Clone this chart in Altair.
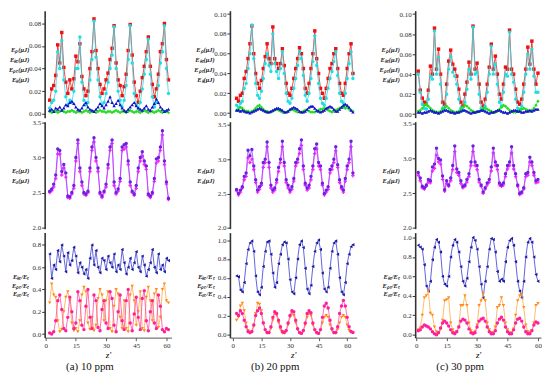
import altair as alt
import pandas as pd

SERIF = "Liberation Serif"

# ---------------- x positions ----------------
Z_A = list(range(2, 62))
Z_B = list(range(2, 64))
Z_C = list(range(1, 61))
X_TICKS = [0, 15, 30, 45, 60]

# ---------------- (a) 10 ppm ----------------
A_RED = [0.012, 0.022, 0.025, 0.034, 0.061, 0.045, 0.072, 0.041, 0.028, 0.018,
         0.030, 0.022, 0.031, 0.051, 0.046, 0.062, 0.033, 0.022, 0.016, 0.020,
         0.040, 0.055, 0.084, 0.056, 0.040, 0.026, 0.018, 0.022, 0.030, 0.036,
         0.048, 0.058, 0.078, 0.045, 0.030, 0.025, 0.016, 0.024, 0.035, 0.056,
         0.079, 0.052, 0.028, 0.016, 0.010, 0.020, 0.032, 0.042, 0.055, 0.068,
         0.042, 0.026, 0.015, 0.022, 0.035, 0.055, 0.062, 0.080, 0.048, 0.030]
A_CYAN = [0.005, 0.010, 0.012, 0.020, 0.055, 0.040, 0.065, 0.030, 0.015, 0.008,
          0.012, 0.010, 0.020, 0.040, 0.040, 0.068, 0.028, 0.012, 0.008, 0.010,
          0.030, 0.048, 0.082, 0.050, 0.030, 0.015, 0.008, 0.010, 0.018, 0.028,
          0.040, 0.052, 0.077, 0.040, 0.020, 0.012, 0.006, 0.012, 0.025, 0.048,
          0.078, 0.045, 0.018, 0.008, 0.005, 0.010, 0.022, 0.035, 0.048, 0.066,
          0.035, 0.015, 0.006, 0.010, 0.025, 0.045, 0.055, 0.078, 0.040, 0.018]
A_BLUE = [0.003, 0.004, 0.002, 0.005, 0.004, 0.006, 0.003, 0.005, 0.008, 0.007,
          0.010, 0.011, 0.009, 0.006, 0.004, 0.003, 0.005, 0.008, 0.010, 0.006,
          0.004, 0.003, 0.002, 0.004, 0.006, 0.009, 0.007, 0.005, 0.008, 0.011,
          0.015, 0.010, 0.007, 0.009, 0.012, 0.008, 0.005, 0.003, 0.002, 0.004,
          0.006, 0.008, 0.010, 0.007, 0.005, 0.004, 0.003, 0.005, 0.007, 0.004,
          0.003, 0.006, 0.009, 0.013, 0.010, 0.006, 0.004, 0.002, 0.003, 0.004]
A_GREEN = [0.002, 0.001, 0.002, 0.002, 0.001, 0.002, 0.003, 0.002, 0.001, 0.002,
           0.002, 0.003, 0.002, 0.001, 0.002, 0.002, 0.001, 0.002, 0.003, 0.002,
           0.001, 0.002, 0.002, 0.001, 0.002, 0.003, 0.002, 0.002, 0.001, 0.002,
           0.002, 0.001, 0.002, 0.003, 0.002, 0.001, 0.002, 0.002, 0.001, 0.002,
           0.003, 0.002, 0.001, 0.002, 0.002, 0.001, 0.002, 0.003, 0.002, 0.001,
           0.002, 0.002, 0.001, 0.002, 0.003, 0.002, 0.001, 0.002, 0.002, 0.001]
A_PURPLE = [2.52, 2.55, 2.62, 2.75, 3.12, 3.10, 2.80, 2.90, 2.78, 2.45,
            2.44, 2.50, 2.60, 3.00, 3.25, 2.85, 2.65, 2.50, 2.48, 2.52,
            2.85, 3.15, 3.28, 3.00, 2.85, 2.50, 2.45, 2.52, 2.62, 2.90,
            3.15, 3.25, 2.65, 2.50, 2.55, 2.70, 3.15, 3.18, 3.20, 2.95,
            2.65, 2.52, 2.48, 2.60, 2.85, 3.00, 3.08, 2.95, 2.88, 2.48,
            2.45, 2.50, 2.70, 2.98, 3.00, 3.15, 3.38, 2.95, 2.65, 2.42]
A_MAGENTA = [2.50, 2.53, 2.58, 2.70, 3.05, 3.05, 2.75, 2.85, 2.72, 2.43,
             2.42, 2.48, 2.56, 2.95, 3.20, 2.80, 2.60, 2.48, 2.46, 2.50,
             2.80, 3.10, 3.22, 2.95, 2.80, 2.48, 2.43, 2.50, 2.58, 2.85,
             3.10, 3.20, 2.60, 2.48, 2.52, 2.66, 3.10, 3.12, 3.15, 2.90,
             2.60, 2.50, 2.46, 2.56, 2.80, 2.95, 3.02, 2.90, 2.83, 2.46,
             2.43, 2.48, 2.66, 2.92, 2.95, 3.10, 3.32, 2.90, 2.62, 2.40]
A_RK = [0.72, 0.50, 0.62, 0.58, 0.75, 0.65, 0.80, 0.70, 0.56, 0.73,
        0.62, 0.66, 0.78, 0.70, 0.55, 0.64, 0.60, 0.54, 0.58, 0.50,
        0.68, 0.80, 0.62, 0.75, 0.60, 0.55, 0.68, 0.66, 0.58, 0.70,
        0.64, 0.60, 0.72, 0.56, 0.62, 0.58, 0.76, 0.64, 0.54, 0.60,
        0.68, 0.58, 0.64, 0.74, 0.60, 0.56, 0.70, 0.62, 0.52, 0.58,
        0.64, 0.76, 0.60, 0.55, 0.72, 0.58, 0.62, 0.56, 0.68, 0.66]
A_RO = [0.28, 0.45, 0.35, 0.33, 0.12, 0.02, 0.04, 0.20, 0.33, 0.38,
        0.30, 0.10, 0.03, 0.05, 0.02, 0.12, 0.35, 0.42, 0.38, 0.10,
        0.04, 0.15, 0.03, 0.08, 0.32, 0.40, 0.35, 0.12, 0.30, 0.38,
        0.05, 0.02, 0.25, 0.40, 0.36, 0.15, 0.05, 0.30, 0.05, 0.02,
        0.35, 0.43, 0.30, 0.08, 0.20, 0.38, 0.05, 0.03, 0.33, 0.42,
        0.30, 0.12, 0.36, 0.40, 0.06, 0.15, 0.40, 0.45, 0.30, 0.28]
A_RP = [0.01, 0.00, 0.02, 0.12, 0.30, 0.35, 0.22, 0.05, 0.03, 0.15,
        0.33, 0.20, 0.05, 0.10, 0.38, 0.30, 0.08, 0.04, 0.25, 0.40,
        0.15, 0.05, 0.35, 0.30, 0.06, 0.03, 0.22, 0.30, 0.10, 0.05,
        0.38, 0.32, 0.08, 0.02, 0.20, 0.35, 0.12, 0.04, 0.30, 0.40,
        0.10, 0.03, 0.18, 0.33, 0.15, 0.04, 0.32, 0.39, 0.12, 0.03,
        0.20, 0.30, 0.10, 0.05, 0.35, 0.25, 0.04, 0.02, 0.05, 0.04]

# ---------------- (b) 20 ppm ----------------
B_RED = [0.015, 0.012, 0.018, 0.020, 0.035, 0.042, 0.055, 0.070, 0.088, 0.060,
         0.040, 0.030, 0.025, 0.033, 0.045, 0.057, 0.070, 0.055, 0.050, 0.087,
         0.055, 0.050, 0.045, 0.050, 0.065, 0.048, 0.030, 0.020, 0.018, 0.025,
         0.035, 0.045, 0.055, 0.066, 0.060, 0.045, 0.025, 0.020, 0.030, 0.045,
         0.060, 0.083, 0.055, 0.040, 0.025, 0.020, 0.015, 0.025, 0.035, 0.045,
         0.050, 0.060, 0.065, 0.045, 0.030, 0.020, 0.018, 0.030, 0.045, 0.060,
         0.070, 0.040]
B_CYAN = [0.008, 0.006, 0.010, 0.012, 0.025, 0.030, 0.045, 0.060, 0.089, 0.055,
          0.030, 0.018, 0.015, 0.022, 0.035, 0.050, 0.060, 0.048, 0.042, 0.080,
          0.050, 0.042, 0.035, 0.045, 0.062, 0.040, 0.020, 0.012, 0.010, 0.015,
          0.025, 0.035, 0.048, 0.062, 0.055, 0.038, 0.018, 0.012, 0.020, 0.035,
          0.052, 0.078, 0.048, 0.030, 0.015, 0.010, 0.008, 0.015, 0.025, 0.035,
          0.042, 0.052, 0.062, 0.038, 0.020, 0.012, 0.010, 0.020, 0.035, 0.050,
          0.062, 0.035]
B_BLUE = [0.003, 0.003, 0.002, 0.003, 0.002, 0.001, 0.001, 0.000, 0.001, 0.002,
          0.003, 0.004, 0.005, 0.004, 0.003, 0.002, 0.001, 0.001, 0.002, 0.003,
          0.004, 0.005, 0.005, 0.004, 0.003, 0.001, 0.001, 0.002, 0.004, 0.005,
          0.006, 0.005, 0.004, 0.002, 0.001, 0.001, 0.002, 0.004, 0.006, 0.007,
          0.007, 0.005, 0.003, 0.002, 0.001, 0.002, 0.003, 0.005, 0.006, 0.007,
          0.006, 0.004, 0.002, 0.002, 0.004, 0.006, 0.008, 0.009, 0.008, 0.006,
          0.003, 0.001]
B_GREEN = [0.003, 0.004, 0.006, 0.005, 0.003, 0.002, 0.002, 0.001, 0.002, 0.003,
           0.005, 0.007, 0.008, 0.006, 0.004, 0.002, 0.002, 0.001, 0.001, 0.002,
           0.003, 0.004, 0.003, 0.002, 0.001, 0.001, 0.001, 0.002, 0.003, 0.004,
           0.003, 0.002, 0.001, 0.001, 0.001, 0.002, 0.003, 0.003, 0.002, 0.001,
           0.001, 0.001, 0.002, 0.003, 0.004, 0.004, 0.005, 0.004, 0.003, 0.002,
           0.001, 0.002, 0.003, 0.004, 0.005, 0.006, 0.006, 0.005, 0.006, 0.004,
           0.003, 0.002]
B_PURPLE = [2.56, 2.50, 2.55, 2.60, 2.75, 2.80, 3.13, 3.05, 3.14, 2.90,
            2.70, 2.55, 2.60, 2.65, 2.95, 3.00, 3.25, 2.95, 2.62, 2.55,
            2.58, 2.70, 2.88, 3.00, 3.26, 2.95, 2.70, 2.62, 2.55, 2.60,
            2.72, 2.95, 3.00, 3.15, 3.28, 2.90, 2.65, 2.58, 2.62, 2.75,
            2.90, 3.15, 3.22, 2.95, 2.90, 2.65, 2.50, 2.55, 2.60, 2.85,
            2.90, 3.00, 3.18, 2.92, 2.70, 2.60, 2.55, 2.72, 2.90, 3.00,
            3.26, 2.80]
B_MAGENTA = [2.54, 2.48, 2.52, 2.58, 2.70, 2.75, 3.02, 2.95, 3.00, 2.85,
             2.66, 2.52, 2.56, 2.62, 2.88, 2.95, 3.18, 2.88, 2.58, 2.52,
             2.55, 2.66, 2.82, 2.95, 3.18, 2.90, 2.66, 2.58, 2.52, 2.56,
             2.68, 2.90, 2.95, 3.08, 3.20, 2.85, 2.62, 2.55, 2.58, 2.70,
             2.85, 3.08, 3.15, 2.90, 2.85, 2.62, 2.48, 2.52, 2.56, 2.80,
             2.85, 2.95, 3.12, 2.88, 2.66, 2.57, 2.52, 2.68, 2.85, 2.95,
             3.18, 2.76]
B_RK = [0.62, 0.61, 0.47, 0.45, 0.55, 0.75, 0.90, 0.97, 0.99, 0.88,
        0.62, 0.45, 0.42, 0.50, 0.72, 0.88, 0.98, 0.99, 0.85, 0.65,
        0.50, 0.55, 0.75, 0.85, 0.95, 0.98, 0.97, 0.80, 0.58, 0.45,
        0.43, 0.60, 0.80, 0.95, 0.99, 0.92, 0.70, 0.48, 0.43, 0.52,
        0.72, 0.88, 0.97, 1.00, 0.90, 0.65, 0.48, 0.45, 0.50, 0.70,
        0.88, 0.97, 0.99, 0.85, 0.60, 0.45, 0.42, 0.55, 0.75, 0.85,
        0.93, 0.95]
B_RO = [0.15, 0.18, 0.30, 0.33, 0.25, 0.12, 0.04, 0.01, 0.02, 0.08,
        0.22, 0.33, 0.32, 0.25, 0.12, 0.04, 0.01, 0.01, 0.06, 0.15,
        0.22, 0.20, 0.12, 0.05, 0.01, 0.01, 0.03, 0.10, 0.18, 0.22,
        0.20, 0.12, 0.05, 0.01, 0.01, 0.03, 0.10, 0.18, 0.22, 0.20,
        0.10, 0.04, 0.01, 0.01, 0.04, 0.12, 0.18, 0.20, 0.18, 0.10,
        0.04, 0.01, 0.01, 0.05, 0.12, 0.18, 0.20, 0.18, 0.10, 0.04,
        0.02, 0.02]
B_RP = [0.22, 0.20, 0.25, 0.22, 0.15, 0.08, 0.03, 0.02, 0.03, 0.10,
        0.20, 0.25, 0.28, 0.22, 0.12, 0.05, 0.02, 0.02, 0.08, 0.18,
        0.24, 0.22, 0.15, 0.08, 0.03, 0.02, 0.04, 0.12, 0.20, 0.25,
        0.24, 0.15, 0.06, 0.02, 0.01, 0.04, 0.12, 0.22, 0.25, 0.23,
        0.12, 0.05, 0.02, 0.01, 0.05, 0.18, 0.30, 0.33, 0.28, 0.15,
        0.06, 0.02, 0.02, 0.08, 0.22, 0.30, 0.36, 0.30, 0.18, 0.08,
        0.03, 0.02]

# ---------------- (c) 30 ppm ----------------
C_RED = [0.043, 0.024, 0.016, 0.012, 0.010, 0.024, 0.048, 0.040, 0.086, 0.045,
         0.065, 0.040, 0.012, 0.010, 0.030, 0.053, 0.064, 0.050, 0.045, 0.038,
         0.025, 0.012, 0.008, 0.020, 0.032, 0.052, 0.040, 0.088, 0.045, 0.051,
         0.030, 0.012, 0.008, 0.015, 0.030, 0.047, 0.070, 0.045, 0.058, 0.040,
         0.020, 0.015, 0.030, 0.047, 0.045, 0.084, 0.045, 0.040, 0.025, 0.012,
         0.010, 0.015, 0.030, 0.045, 0.067, 0.050, 0.073, 0.045, 0.030, 0.041]
C_CYAN = [0.040, 0.022, 0.010, 0.006, 0.005, 0.015, 0.038, 0.035, 0.083, 0.040,
          0.057, 0.030, 0.006, 0.005, 0.020, 0.045, 0.058, 0.042, 0.038, 0.030,
          0.015, 0.006, 0.004, 0.012, 0.025, 0.045, 0.035, 0.087, 0.040, 0.042,
          0.020, 0.006, 0.004, 0.008, 0.022, 0.040, 0.068, 0.040, 0.050, 0.030,
          0.012, 0.008, 0.022, 0.040, 0.038, 0.082, 0.040, 0.032, 0.015, 0.006,
          0.005, 0.008, 0.022, 0.040, 0.060, 0.045, 0.065, 0.038, 0.022, 0.022]
C_BLUE = [0.002, 0.002, 0.001, 0.002, 0.002, 0.003, 0.004, 0.003, 0.002, 0.002,
          0.001, 0.002, 0.003, 0.004, 0.004, 0.003, 0.002, 0.002, 0.001, 0.002,
          0.002, 0.003, 0.004, 0.004, 0.003, 0.002, 0.001, 0.002, 0.002, 0.003,
          0.003, 0.004, 0.004, 0.003, 0.002, 0.001, 0.002, 0.002, 0.003, 0.004,
          0.004, 0.003, 0.002, 0.002, 0.001, 0.002, 0.003, 0.004, 0.004, 0.003,
          0.003, 0.002, 0.002, 0.003, 0.003, 0.004, 0.003, 0.004, 0.005, 0.005]
C_GREEN = [0.003, 0.004, 0.006, 0.009, 0.010, 0.008, 0.006, 0.004, 0.003, 0.002,
           0.002, 0.003, 0.005, 0.007, 0.008, 0.006, 0.004, 0.003, 0.002, 0.002,
           0.003, 0.005, 0.007, 0.009, 0.008, 0.006, 0.004, 0.003, 0.002, 0.002,
           0.003, 0.004, 0.006, 0.006, 0.005, 0.004, 0.003, 0.002, 0.002, 0.003,
           0.005, 0.007, 0.009, 0.008, 0.006, 0.004, 0.003, 0.002, 0.002, 0.003,
           0.004, 0.005, 0.006, 0.005, 0.004, 0.003, 0.004, 0.006, 0.009, 0.013]
C_PURPLE = [2.80, 2.72, 2.60, 2.58, 2.62, 2.70, 2.68, 2.88, 2.92, 3.15,
            3.00, 2.98, 2.75, 2.55, 2.68, 2.62, 2.72, 2.90, 3.18, 2.85,
            2.80, 2.68, 2.60, 2.62, 2.70, 2.78, 2.95, 3.18, 2.95, 2.90,
            2.70, 2.62, 2.52, 2.58, 2.65, 2.70, 2.88, 3.15, 2.95, 2.90,
            2.65, 2.62, 2.65, 2.78, 2.90, 2.95, 3.17, 2.90, 2.78, 2.62,
            2.50, 2.52, 2.58, 2.78, 2.80, 3.02, 2.95, 2.80, 2.68, 2.70]
C_MAGENTA = [2.76, 2.68, 2.58, 2.56, 2.60, 2.66, 2.65, 2.82, 2.86, 3.05,
             2.95, 2.92, 2.70, 2.53, 2.64, 2.60, 2.68, 2.84, 3.10, 2.80,
             2.76, 2.64, 2.58, 2.60, 2.66, 2.74, 2.90, 3.10, 2.90, 2.84,
             2.66, 2.60, 2.50, 2.56, 2.62, 2.66, 2.82, 3.08, 2.90, 2.84,
             2.62, 2.60, 2.62, 2.74, 2.85, 2.90, 3.08, 2.85, 2.74, 2.60,
             2.48, 2.50, 2.56, 2.74, 2.76, 2.95, 2.90, 2.76, 2.65, 2.66]
C_RK = [0.92, 0.90, 0.88, 0.72, 0.50, 0.45, 0.55, 0.77, 0.90, 0.98,
        0.95, 0.85, 0.60, 0.52, 0.50, 0.60, 0.80, 0.92, 0.98, 0.95,
        0.85, 0.70, 0.55, 0.50, 0.58, 0.75, 0.90, 1.00, 0.97, 0.88,
        0.70, 0.52, 0.38, 0.55, 0.70, 0.88, 0.99, 0.98, 0.85, 0.65,
        0.55, 0.57, 0.55, 0.75, 0.90, 0.97, 0.99, 0.92, 0.75, 0.55,
        0.45, 0.38, 0.55, 0.80, 0.95, 0.99, 0.95, 0.80, 0.62, 0.55]
C_RO = [0.05, 0.07, 0.20, 0.38, 0.40, 0.45, 0.22, 0.20, 0.08, 0.03,
        0.02, 0.05, 0.15, 0.35, 0.36, 0.38, 0.12, 0.05, 0.02, 0.03,
        0.08, 0.30, 0.30, 0.40, 0.30, 0.12, 0.04, 0.02, 0.03, 0.10,
        0.30, 0.35, 0.42, 0.35, 0.12, 0.05, 0.02, 0.02, 0.08, 0.28,
        0.30, 0.38, 0.30, 0.12, 0.05, 0.02, 0.02, 0.06, 0.20, 0.35,
        0.40, 0.42, 0.28, 0.10, 0.03, 0.02, 0.04, 0.12, 0.30, 0.32]
C_RP = [0.04, 0.05, 0.08, 0.10, 0.09, 0.08, 0.06, 0.03, 0.01, 0.00,
        0.02, 0.07, 0.12, 0.14, 0.12, 0.09, 0.05, 0.02, 0.01, 0.03,
        0.08, 0.14, 0.16, 0.15, 0.12, 0.06, 0.02, 0.01, 0.02, 0.08,
        0.14, 0.16, 0.17, 0.14, 0.08, 0.03, 0.01, 0.01, 0.04, 0.12,
        0.16, 0.18, 0.15, 0.08, 0.03, 0.01, 0.01, 0.05, 0.12, 0.16,
        0.17, 0.14, 0.08, 0.03, 0.01, 0.01, 0.04, 0.10, 0.13, 0.12]

TOP_TITLE = ["Eₚ(μJ)", "Eₖₜ(μJ)", "Eₚₜ(μJ)", "Eₖ(μJ)"]
MID_TITLE = ["Eₜ(μJ)", "Eₛ(μJ)"]
BOT_TITLE = ["Eₖₜ/Eₜ", "Eₚₜ/Eₜ", "Eₛₜ/Eₜ"]
CAPTIONS = ["(a) 10 ppm", "(b) 20 ppm", "(c) 30 ppm"]

# series styles: (name, line colour, point colour, shape)
TOP_STYLE = [("red", "#f01818", "#ee1111", "square"),
             ("cyan", "#30d8e0", "#22dde0", "circle"),
             ("green", "#30e030", "#22dd22", "diamond"),
             ("blue", "#2020d0", "#1111c8", "triangle-up")]
MID_STYLE = [("magenta", "#ff40ff", "#ff22ff", "cross"),
             ("purple", "#9a40ff", "#6a22e0", "circle")]
BOT_STYLE = [("rk", "#3a3ad0", "#1a1aa0", "triangle-left"),
             ("ro", "#ffaa44", "#ff8c1a", "triangle-down"),
             ("rp", "#ff4aa8", "#ff1f99", "circle")]


def panel(z, values, styles, xdom, ydom, yticks, yfmt, ytitle, width, height,
          line_h, bottom=False, title_dx=16):
    rows = []
    for (name, _, _, _), vals in zip(styles, values):
        for zz, vv in zip(z, vals):
            rows.append({"z": zz, "v": vv, "s": name})
    df = pd.DataFrame(rows)
    if bottom:
        xaxis = alt.Axis(values=X_TICKS, title="z′", titleFont=SERIF,
                         titleFontStyle="italic", titleFontSize=9,
                         titleFontWeight="normal", titlePadding=2,
                         labelFont=SERIF, labelFontSize=7, labelPadding=1,
                         tickSize=3, grid=False, domainColor="#555",
                         tickColor="#555", labelColor="#333")
    else:
        xaxis = None
    n = len(ytitle)
    yaxis = alt.Axis(values=yticks, format=yfmt, title=ytitle, titleAngle=0,
                     titleAlign="right", titleBaseline="middle",
                     titleX=-title_dx, titleY=height / 2 - (n - 1) * line_h / 2,
                     titleFont=SERIF, titleFontSize=6.5, titleFontStyle="italic",
                     titleFontWeight="bold", titleLineHeight=line_h,
                     titleColor="#222", labelFont=SERIF, labelFontSize=7,
                     labelPadding=1, labelColor="#333", tickSize=3,
                     domainWidth=1.6, domainColor="#333", tickColor="#333",
                     grid=False)
    enc = dict(
        x=alt.X("z:Q", scale=alt.Scale(domain=xdom, nice=False, zero=False), axis=xaxis),
        y=alt.Y("v:Q", scale=alt.Scale(domain=ydom, nice=False, zero=False), axis=yaxis),
    )
    layers = []
    for name, lc, pc, shape in styles:
        base = alt.Chart().transform_filter(alt.datum.s == name).encode(**enc)
        layers.append(base.mark_line(color=lc, strokeWidth=0.8))
        layers.append(base.mark_point(shape=shape, filled=True, size=12,
                                      color=pc, opacity=1))
    return alt.layer(*layers, data=df).properties(width=width, height=height)


H_TOP, H_MID, H_BOT = 108, 108, 106


def column(z, xdom, width, top_vals, top_dom, top_ticks, mid_vals, mid_dom,
           bot_vals, bot_dom, bot_ticks, caption):
    top = panel(z, top_vals, TOP_STYLE, xdom, top_dom, top_ticks, ".2f",
                TOP_TITLE, width, H_TOP, 10)
    mid = panel(z, mid_vals, MID_STYLE, xdom, mid_dom, [2.0, 2.5, 3.0, 3.5],
                ".1f", MID_TITLE, width, H_MID, 10)
    bot = panel(z, bot_vals, BOT_STYLE, xdom, bot_dom, bot_ticks, ".1f",
                BOT_TITLE, width, H_BOT, 8.5, bottom=True)
    return alt.vconcat(top, mid, bot, spacing=4, bounds="flush",
                       title=alt.TitleParams(text=caption, orient="bottom",
                                             anchor="middle", font=SERIF,
                                             fontSize=11, fontWeight="normal",
                                             color="#111", offset=2))


col_a = column(Z_A, [-0.5, 62.5], 128,
               [A_RED, A_CYAN, A_GREEN, A_BLUE], [-0.0035, 0.0913],
               [0, 0.02, 0.04, 0.06, 0.08],
               [A_MAGENTA, A_PURPLE], [1.986, 3.51],
               [A_RK, A_RO, A_RP], [-0.032, 0.911], [0, 0.2, 0.4, 0.6, 0.8],
               CAPTIONS[0])
col_b = column(Z_B, [-1.5, 65], 128,
               [B_RED, B_CYAN, B_GREEN, B_BLUE], [-0.0046, 0.1034],
               [0, 0.02, 0.04, 0.06, 0.08, 0.10],
               [B_MAGENTA, B_PURPLE], [1.99, 3.545],
               [B_RK, B_RO, B_RP], [-0.035, 1.079], [0, 0.2, 0.4, 0.6, 0.8, 1.0],
               CAPTIONS[1])
col_c = column(Z_C, [-0.5, 61.5], 127,
               [C_RED, C_CYAN, C_GREEN, C_BLUE], [-0.0035, 0.1034],
               [0, 0.02, 0.04, 0.06, 0.08, 0.10],
               [C_MAGENTA, C_PURPLE], [1.99, 3.532],
               [C_RK, C_RO, C_RP], [-0.03, 1.05], [0, 0.2, 0.4, 0.6, 0.8, 1.0],
               CAPTIONS[2])

chart = alt.hconcat(col_a, col_b, col_c, spacing=22).properties(
    padding={"left": 0, "top": 0, "right": 0, "bottom": 0},
    background="white",
).configure_view(stroke=None)

chart.save("out.html", embed_options={"renderer": "svg", "actions": False})
